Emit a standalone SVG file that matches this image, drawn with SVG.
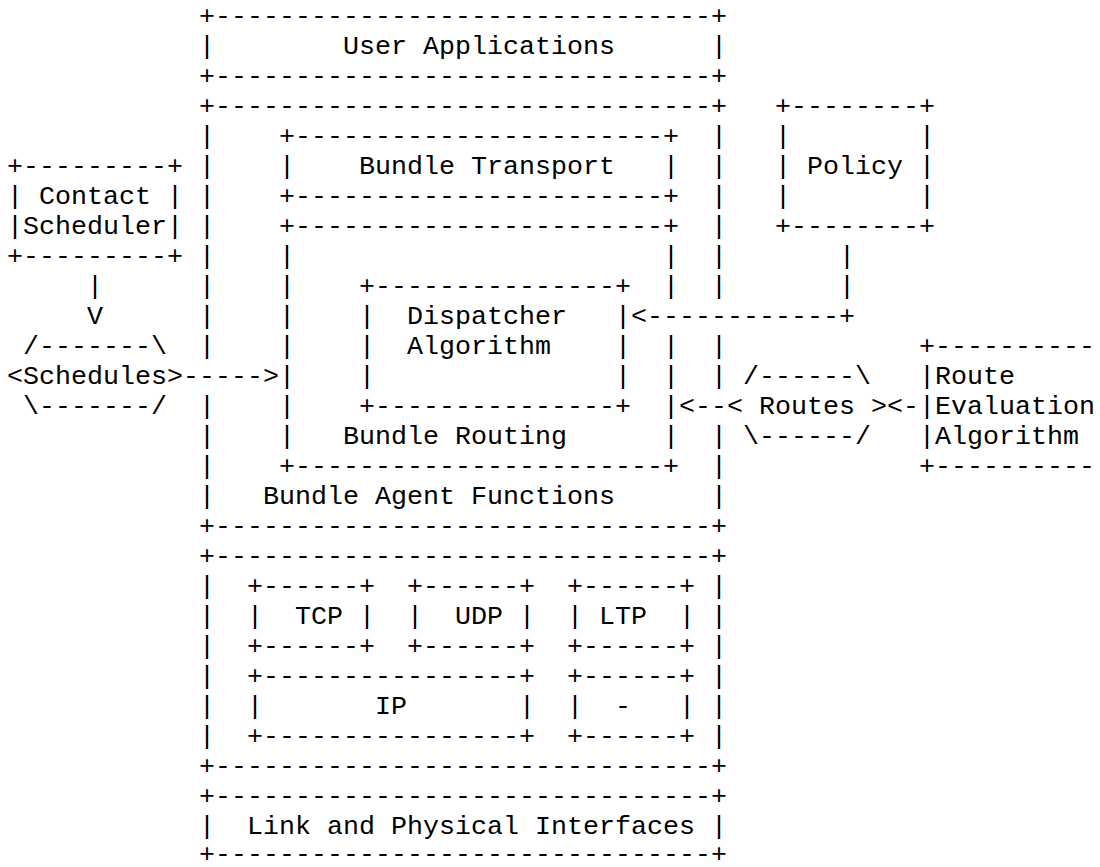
<svg xmlns="http://www.w3.org/2000/svg" width="1100" height="867" viewBox="0 0 1100 867">
<style>
text{font-family:"Liberation Mono","Courier New",monospace;font-size:26.67px;fill:#000;white-space:pre}
</style>
<rect width="1100" height="867" fill="#fff"/>
<g id="user-applications" xml:space="preserve">
<text x="199" y="23.5">+-------------------------------+</text>
<text x="199" y="53.5">|        User Applications      |</text>
<text x="199" y="83.5">+-------------------------------+</text>
</g>
<g id="bundle-agent-functions" xml:space="preserve">
<text x="199" y="113.5">+-------------------------------+</text>
<text x="199" y="143.5">|</text><text x="711" y="143.5">|</text>
<text x="199" y="173.5">|</text><text x="711" y="173.5">|</text>
<text x="199" y="203.5">|</text><text x="711" y="203.5">|</text>
<text x="199" y="233.5">|</text><text x="711" y="233.5">|</text>
<text x="199" y="263.5">|</text><text x="711" y="263.5">|</text>
<text x="199" y="293.5">|</text><text x="711" y="293.5">|</text>
<text x="199" y="323.5">|</text>
<text x="199" y="353.5">|</text><text x="711" y="353.5">|</text>
<text x="711" y="383.5">|</text>
<text x="199" y="413.5">|</text>
<text x="199" y="443.5">|</text><text x="711" y="443.5">|</text>
<text x="199" y="473.5">|</text><text x="711" y="473.5">|</text>
<text x="199" y="503.5">|   Bundle Agent Functions      |</text>
<text x="199" y="533.5">+-------------------------------+</text>
</g>
<g id="bundle-transport" xml:space="preserve">
<text x="279" y="143.5">+-----------------------+</text>
<text x="279" y="173.5">|    Bundle Transport   |</text>
<text x="279" y="203.5">+-----------------------+</text>
</g>
<g id="bundle-routing" xml:space="preserve">
<text x="279" y="233.5">+-----------------------+</text>
<text x="279" y="263.5">|</text><text x="663" y="263.5">|</text>
<text x="279" y="293.5">|</text><text x="663" y="293.5">|</text>
<text x="279" y="323.5">|</text>
<text x="279" y="353.5">|</text><text x="663" y="353.5">|</text>
<text x="279" y="383.5">|</text><text x="663" y="383.5">|</text>
<text x="279" y="413.5">|</text><text x="663" y="413.5">|</text>
<text x="279" y="443.5">|   Bundle Routing      |</text>
<text x="279" y="473.5">+-----------------------+</text>
</g>
<g id="dispatcher-algorithm" xml:space="preserve">
<text x="359" y="293.5">+---------------+</text>
<text x="359" y="323.5">|  Dispatcher   |</text>
<text x="359" y="353.5">|  Algorithm    |</text>
<text x="359" y="383.5">|               |</text>
<text x="359" y="413.5">+---------------+</text>
</g>
<g id="policy" xml:space="preserve">
<text x="775" y="113.5">+--------+</text>
<text x="775" y="143.5">|        |</text>
<text x="775" y="173.5">| Policy |</text>
<text x="775" y="203.5">|        |</text>
<text x="775" y="233.5">+--------+</text>
</g>
<g id="contact-scheduler" xml:space="preserve">
<text x="7" y="173.5">+---------+</text>
<text x="7" y="203.5">| Contact |</text>
<text x="7" y="233.5">|Scheduler|</text>
<text x="7" y="263.5">+---------+</text>
</g>
<g id="schedules" xml:space="preserve">
<text x="23" y="353.5">/-------\</text>
<text x="7" y="383.5">&lt;Schedules&gt;</text>
<text x="23" y="413.5">\-------/</text>
</g>
<g id="routes" xml:space="preserve">
<text x="743" y="383.5">/------\</text>
<text x="727" y="413.5">&lt; Routes &gt;</text>
<text x="743" y="443.5">\------/</text>
</g>
<g id="route-evaluation-algorithm" xml:space="preserve">
<text x="919" y="353.5">+----------</text>
<text x="919" y="383.5">|Route</text>
<text x="919" y="413.5">|Evaluation</text>
<text x="919" y="443.5">|Algorithm</text>
<text x="919" y="473.5">+----------</text>
</g>
<g id="convergence-layers" xml:space="preserve">
<text x="199" y="563.5">+-------------------------------+</text>
<text x="199" y="593.5">|</text><text x="711" y="593.5">|</text>
<text x="199" y="623.5">|</text><text x="711" y="623.5">|</text>
<text x="199" y="653.5">|</text><text x="711" y="653.5">|</text>
<text x="199" y="683.5">|</text><text x="711" y="683.5">|</text>
<text x="199" y="713.5">|</text><text x="711" y="713.5">|</text>
<text x="199" y="743.5">|</text><text x="711" y="743.5">|</text>
<text x="199" y="773.5">+-------------------------------+</text>
</g>
<g id="tcp" xml:space="preserve">
<text x="247" y="593.5">+------+</text>
<text x="247" y="623.5">|  TCP |</text>
<text x="247" y="653.5">+------+</text>
</g>
<g id="udp" xml:space="preserve">
<text x="407" y="593.5">+------+</text>
<text x="407" y="623.5">|  UDP |</text>
<text x="407" y="653.5">+------+</text>
</g>
<g id="ltp" xml:space="preserve">
<text x="567" y="593.5">+------+</text>
<text x="567" y="623.5">| LTP  |</text>
<text x="567" y="653.5">+------+</text>
</g>
<g id="ip" xml:space="preserve">
<text x="247" y="683.5">+----------------+</text>
<text x="247" y="713.5">|       IP       |</text>
<text x="247" y="743.5">+----------------+</text>
</g>
<g id="unnamed-layer" xml:space="preserve">
<text x="567" y="683.5">+------+</text>
<text x="567" y="713.5">|  -   |</text>
<text x="567" y="743.5">+------+</text>
</g>
<g id="link-physical-interfaces" xml:space="preserve">
<text x="199" y="803.5">+-------------------------------+</text>
<text x="199" y="833.5">|  Link and Physical Interfaces |</text>
<text x="199" y="862">+-------------------------------+</text>
</g>
<g id="connectors" xml:space="preserve">
<text x="87" y="293.5">|</text>
<text x="87" y="323.5">V</text>
<text x="183" y="383.5">-----&gt;</text>
<text x="839" y="263.5">|</text>
<text x="839" y="293.5">|</text>
<text x="631" y="323.5">&lt;------------+</text>
<text x="679" y="413.5">&lt;--</text>
<text x="887" y="413.5">&lt;-</text>
</g>
</svg>
